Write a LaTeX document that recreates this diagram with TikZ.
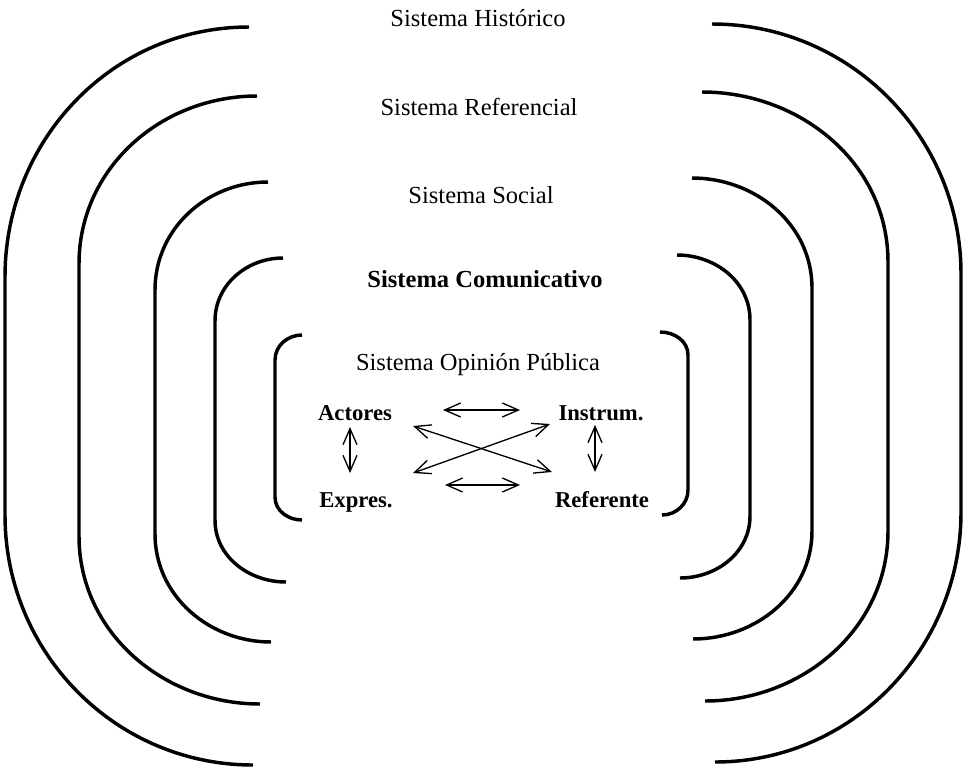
\documentclass[tikz,border=0pt]{standalone}
\usepackage{fontspec}
\setmainfont{Liberation Serif}
\usetikzlibrary{arrows.meta}
\begin{document}
\begin{tikzpicture}[x=0.75pt,y=0.75pt,
  bracket/.style={line width=2.6pt},
  title/.style={anchor=base,inner sep=0pt,font=\fontsize{18.4}{22}\selectfont},
  btitle/.style={title,font=\fontsize{18.4}{22}\selectfont\bfseries},
  lab/.style={anchor=base,inner sep=0pt,font=\fontsize{17}{20}\selectfont\bfseries},
  dbl/.style={line width=1pt,{Straight Barb[length=12pt,width=10.5pt]}-{Straight Barb[length=12pt,width=10.5pt]}}]
\useasboundingbox (0,0) rectangle (964,-772);
% left brackets
\draw[bracket] (249,-27) to[out=180,in=90] (5,-277) -- (5,-515) to[out=270,in=180] (253,-765);
\draw[bracket] (257,-96) to[out=180,in=90] (79,-264) -- (79,-536) to[out=270,in=180] (260,-704);
\draw[bracket] (268,-182) to[out=180,in=90] (155,-290) -- (155,-534) to[out=270,in=180] (271,-642);
\draw[bracket] (283,-258) to[out=180,in=90] (215,-321) -- (215,-520) to[out=270,in=180] (286,-582);
\draw[bracket] (302,-335) to[out=180,in=90] (275,-360) -- (275,-497) to[out=270,in=180] (302,-520);
% right brackets
\draw[bracket] (712,-24) to[out=0,in=90] (961,-274) -- (961,-512) to[out=270,in=0] (715,-762);
\draw[bracket] (702,-92) to[out=0,in=90] (888,-262) -- (888,-531) to[out=270,in=0] (705,-701);
\draw[bracket] (692,-178) to[out=0,in=90] (812,-288) -- (812,-531) to[out=270,in=0] (693,-639);
\draw[bracket] (677,-255) to[out=0,in=90] (750,-320) -- (750,-516) to[out=270,in=0] (680,-578);
\draw[bracket] (660,-332) to[out=0,in=90] (688,-355) -- (688,-490) to[out=270,in=0] (662,-515);
% titles
\node[title] (hist) at (478,-26) {Sistema Histórico};
\node[title] (refl) at (479,-115) {Sistema Referencial};
\node[title] (soc) at (481,-203) {Sistema Social};
\node[btitle] (com) at (485,-287) {Sistema Comunicativo};
\node[title] (op) at (478,-370) {Sistema Opinión Pública};
% inner labels
\node[lab] (act) at (355,-420) {Actores};
\node[lab] (ins) at (601,-420) {Instrum.};
\node[lab] (exp) at (356,-507) {Expres.};
\node[lab] (ref) at (602,-507) {Referente};
% arrows
\draw[dbl] ([shift={(88,10)}]act.base) -- ([shift={(-81,10)}]ins.base);
\draw[dbl] ([shift={(89,22)}]exp.base) -- ([shift={(-82,22)}]ref.base);
\draw[dbl] ([shift={(-5,-7)}]act.base) -- ([shift={(-6,34)}]exp.base);
\draw[dbl] ([shift={(-6,-5)}]ins.base) -- ([shift={(-7,35)}]ref.base);
\draw[dbl] ([shift={(58,-6)}]act.base) -- ([shift={(-50,35)}]ref.base);
\draw[dbl] ([shift={(57,34)}]exp.base) -- ([shift={(-51,-4)}]ins.base);
\end{tikzpicture}
\end{document}
